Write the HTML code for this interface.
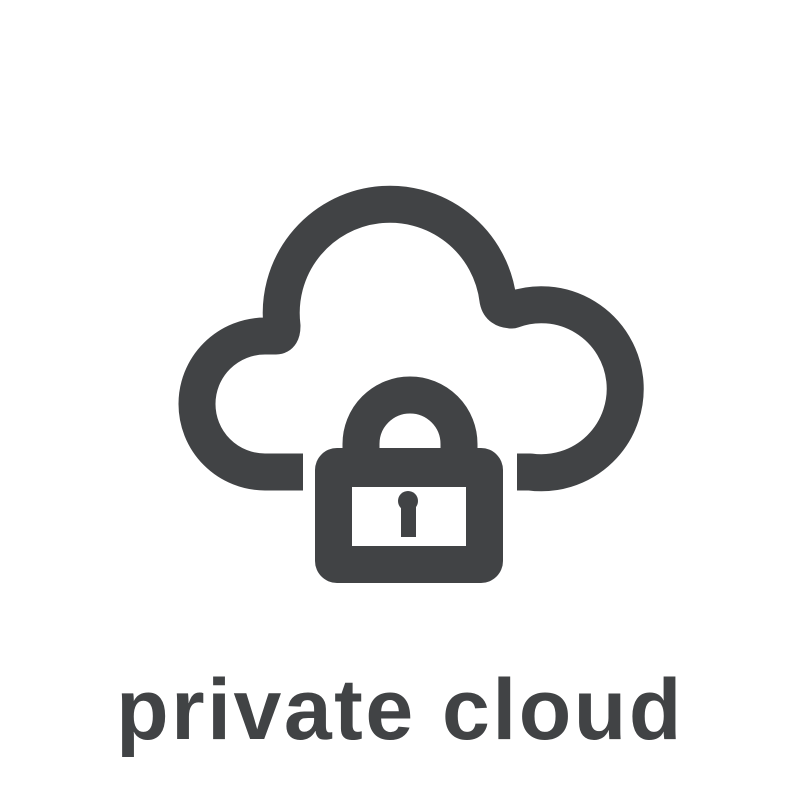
<!DOCTYPE html>
<html><head><meta charset="utf-8"><style>
html,body{margin:0;padding:0;background:#fff;}
body{width:800px;height:800px;position:relative;overflow:hidden;}
svg{position:absolute;left:0;top:0;}
.t{position:absolute;left:0;width:800px;top:660px;text-align:center;font-family:"Liberation Sans",sans-serif;font-weight:bold;font-size:86px;letter-spacing:2.5px;color:#414345;line-height:100px;}
</style></head><body>
<svg width="800" height="800" viewBox="0 0 800 800">
<g fill="none" stroke="#414345" stroke-width="37" stroke-linejoin="round">
<path d="M303 472 L265 472 A68 68 0 0 1 265 336 L276 336 Q282 336 282 326 A108 108 0 0 1 498 300 Q500 310 512 310 A84 84 0 1 1 530 472 L517 472"/>
<path d="M361 456 L361 444 A49 49 0 0 1 459 444 L459 456"/>
</g>
<rect x="315" y="448" width="188" height="135" rx="22" fill="#414345"/>
<rect x="352" y="487" width="114" height="59" fill="#fff"/>
<circle cx="408" cy="501" r="10" fill="#414345"/>
<rect x="401" y="500" width="15" height="37" fill="#414345"/>
</svg>
<div class="t">private cloud</div>
</body></html>
